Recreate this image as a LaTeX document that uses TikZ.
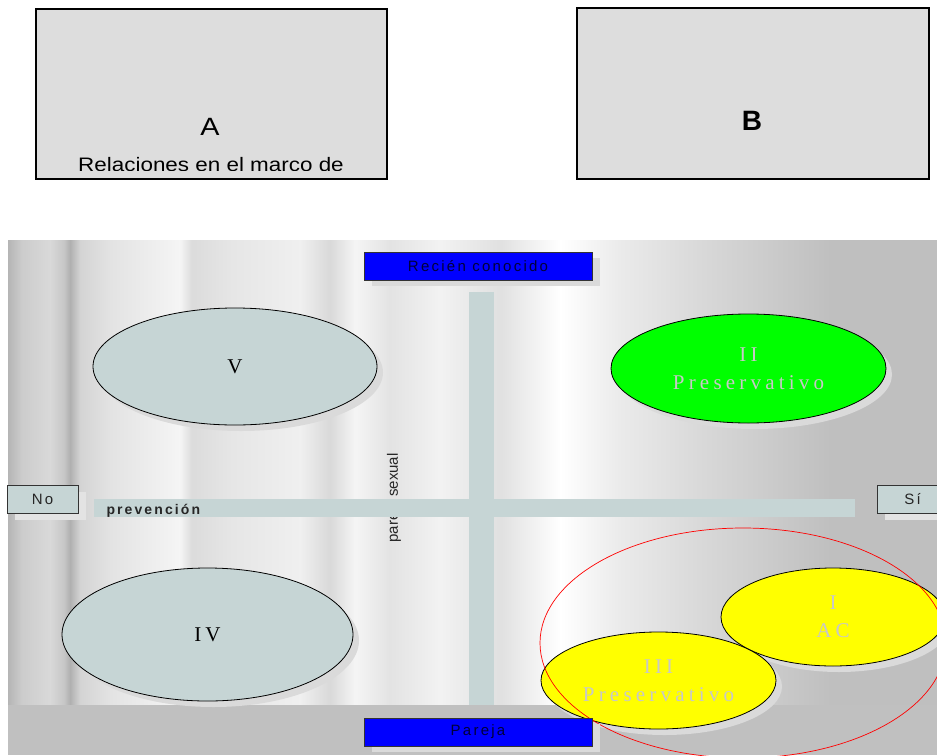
\documentclass[tikz,border=0pt]{standalone}
\usepackage{fontspec}
\setmainfont{Liberation Serif}
\setsansfont{Liberation Sans}
\newfontfamily\tracksans[LetterSpace=15]{Liberation Sans}
\newfontfamily\trackserif[LetterSpace=20]{Liberation Serif}
\newfontfamily\widesans[FakeStretch=1.15]{Liberation Sans}
\usetikzlibrary{shapes.geometric,shadows}
\definecolor{boxgray}{HTML}{DDDDDD}
\definecolor{bargray}{HTML}{C6D5D5}
\definecolor{bandgray}{HTML}{C0C0C0}
\definecolor{shadegray}{HTML}{DADADA}
\definecolor{softgray}{HTML}{C8C8C8}
\definecolor{inkblue}{HTML}{00003A}
\definecolor{zoneyellow}{HTML}{FFFF00}
\definecolor{zonegreen}{HTML}{00FF00}
% vertical stripes of the backdrop (25bp..75bp is the panel)
\pgfdeclarehorizontalshading{stripes}{100bp}{
  color(0bp)=(white!71!black); color(25bp)=(white!71!black);
  color(25.75bp)=(white!80!black); color(27.26bp)=(white!85!black);
  color(28.01bp)=(white!78!black); color(28.34bp)=(white!69!black);
  color(28.88bp)=(white!83!black); color(30.49bp)=(white!89!black);
  color(34.26bp)=(white!96!black); color(34.9bp)=(white!86!black);
  color(36.95bp)=(white!90!black); color(40.72bp)=(white!94!black);
  color(42.33bp)=(white!85!black); color(43.68bp)=(white!96!black);
  color(45.56bp)=(white!89!black); color(48.25bp)=(white!95!black);
  color(51.48bp)=(white!88!black); color(54.71bp)=(white);
  color(57.94bp)=(white!92!black); color(62.24bp)=(white!85!black);
  color(69.24bp)=(white!75!black); color(75bp)=(white!75!black);
  color(100bp)=(white!75!black)}
\begin{document}
\begin{tikzpicture}[x=1pt,y=-1pt,
  topbox/.style={draw=black,line width=1.3pt,fill=boxgray,inner sep=0pt,minimum width=351pt,minimum height=170pt},
  tagbox/.style={draw=black!80,fill=blue,inner sep=0pt,minimum width=228pt,minimum height=28pt,
    font=\tracksans\fontsize{15}{18}\selectfont,text=inkblue,
    general shadow={shadow xshift=8pt,shadow yshift=-6pt,fill=shadegray}},
  endbox/.style={draw=black!80,fill=bargray,inner sep=0pt,minimum width=71pt,minimum height=28pt,
    font=\tracksans\fontsize{15}{18}\selectfont,text=black!85,
    general shadow={shadow xshift=8pt,shadow yshift=-6pt,fill=black!11}},
  zone/.style={ellipse,draw=black,line width=0.8pt,inner sep=0pt,align=center,
    font=\trackserif\fontsize{21}{28}\selectfont,
    general shadow={shadow xshift=6pt,shadow yshift=-6pt,fill=shadegray}}]
\useasboundingbox (0,0) rectangle (937,755);

% The two boxes on top
\node[topbox] (boxA) at (211.5,94) {};
\node[font=\widesans\fontsize{25}{30}\selectfont] (labA) at (210,127) {A};
\begin{scope}
\clip ([yshift=9pt]boxA.south west) rectangle (boxA.north east);
\node[anchor=base,font=\widesans\fontsize{19.5}{23}\selectfont] (relA) at (211,171.5) {Relaciones en el marco de};
\end{scope}
\node[topbox,minimum width=352pt,minimum height=171pt] (boxB) at (753,93.5) {};
\node[font=\sffamily\bfseries\fontsize{28}{32}\selectfont] (labB) at (752,121) {B};

% The backdrop
\shade[shading=stripes] (8,240) rectangle (937,705);
\fill[bandgray] (8,705) rectangle (937,755);

% Axis text, partly under the bar
\node[rotate=90,font=\sffamily\fontsize{15}{18}\selectfont,text=black!85] (parsex) at (394,498) {pareja sexual};

% The bars
\fill[bargray] (469,292) rectangle (494,705);
\fill[bargray] (94,499) rectangle (855,517);
\node[anchor=base west,font=\tracksans\bfseries\fontsize{14}{17}\selectfont,text=black!85] (prev) at (103,514) {prevención};

% The zones
\node[zone,fill=bargray,minimum width=284pt,minimum height=117pt] (zoneV) at (235,366.5) {V};
\node[zone,fill=zonegreen,text=softgray,minimum width=275pt,minimum height=109pt] (zoneII) at (748.5,368.5) {II\\Preservativo};
\node[zone,fill=bargray,minimum width=291pt,minimum height=133pt] (zoneIV) at (207.5,634.5) {IV};
\node[zone,fill=zoneyellow,text=softgray,minimum width=224pt,minimum height=98pt] (zoneI) at (833,617) {I\\AC};
\node[zone,fill=zoneyellow,text=softgray,minimum width=235pt,minimum height=97pt] (zoneIII) at (658.5,680.5) {III\\Preservativo};
\node[ellipse,draw=red,line width=0.7pt,minimum width=406pt,minimum height=230pt] (ring) at (743,643) {};

% Labels at the ends
\node[tagbox] (recien) at (478,266) {Recién conocido};
\node[tagbox] (pareja) at (478,732) {Pareja};
\node[endbox] (no) at (42.5,499.5) {No};
\node[endbox] (si) at (912.5,499.5) {Sí};

\end{tikzpicture}
\end{document}
